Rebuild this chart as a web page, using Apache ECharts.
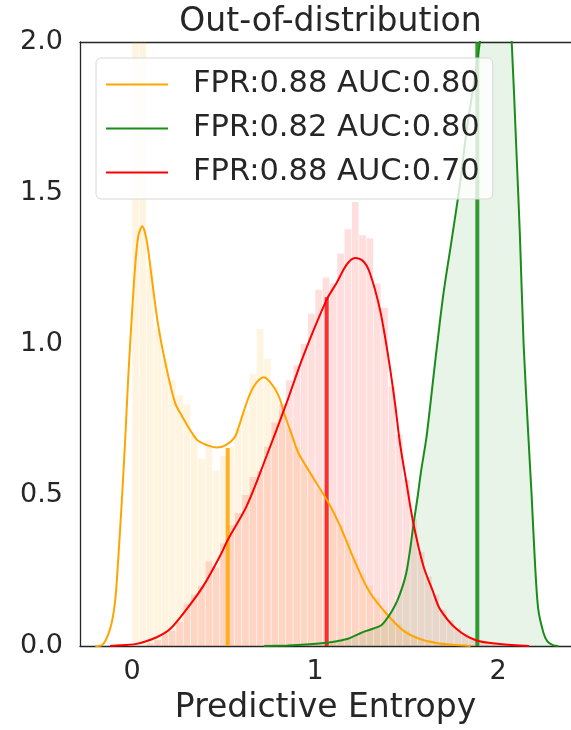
<!DOCTYPE html>
<html lang="en">
<head>
    <meta charset="UTF-8">
    <title>Out-of-distribution</title>
    <script src="https://cdn.jsdelivr.net/npm/echarts@6/dist/echarts.min.js"></script>
    <style>
        html, body { margin: 0; padding: 0; background: #fff; }
    </style>
</head>
<body>
    <div id="chart" style="width: 571px; height: 730px;"></div>

    <script>
        // #region data
        var legendNames = ["FPR:0.88 AUC:0.80", "FPR:0.82 AUC:0.80", "FPR:0.88 AUC:0.70"]
        var xTicks = [0, 1, 2]

        // histograms (bin width 0.04)
        var binWidth = 0.04
        var orangeHistStart = 0.0
        var orangeHist = [2.60, 2.20, 1.25, 1.05, 0.95, 0.88, 0.83, 0.80, 0.70, 0.62,
            0.68, 0.58, 0.63, 0.66, 0.72, 0.78, 0.90, 1.05, 0.95, 0.86,
            0.78, 0.72, 0.66, 0.60, 0.57, 0.52, 0.49, 0.45, 0.40, 0.35,
            0.29, 0.24, 0.20, 0.16, 0.12, 0.09, 0.07, 0.05, 0.035, 0.025,
            0.015, 0.01, 0.008, 0.005, 0.004, 0.003]
        var redHistStart = 0.08
        var redHist = [0.01, 0.02, 0.04, 0.05, 0.08, 0.14, 0.17, 0.20, 0.28, 0.26,
            0.34, 0.40, 0.44, 0.50, 0.56, 0.58, 0.66, 0.74, 0.80, 0.88,
            0.93, 1.00, 1.10, 1.18, 1.22, 1.20, 1.30, 1.38, 1.47, 1.36,
            1.35, 1.20, 1.12, 0.86, 0.70, 0.55, 0.42, 0.31, 0.23, 0.17,
            0.12, 0.085, 0.06, 0.04, 0.028, 0.018, 0.012, 0.009, 0.006, 0.005,
            0.003, 0.002]

        // density curves [x, y]
        var orangeKde = [[-0.20, 0], [-0.166, 0.002], [-0.12, 0.056], [-0.093, 0.144], [-0.075, 0.288],
            [-0.056, 0.475], [-0.038, 0.673], [-0.02, 0.894], [-0.002, 1.081], [0.016, 1.246],
            [0.034, 1.356], [0.056, 1.39], [0.08, 1.345], [0.107, 1.224], [0.144, 1.059],
            [0.19, 0.916], [0.235, 0.806], [0.262, 0.773], [0.353, 0.684], [0.41, 0.665],
            [0.463, 0.657], [0.51, 0.664], [0.56, 0.69], [0.585, 0.728], [0.608, 0.772],
            [0.645, 0.835], [0.68, 0.872], [0.721, 0.89], [0.772, 0.86], [0.809, 0.817],
            [0.827, 0.778], [0.873, 0.70], [0.909, 0.64], [0.973, 0.574], [1.073, 0.475],
            [1.137, 0.398], [1.228, 0.266], [1.30, 0.177], [1.392, 0.106], [1.483, 0.051],
            [1.574, 0.023], [1.665, 0.01], [1.75, 0.004], [1.85, 0]]
        var greenKde = [[0.72, 0], [0.85, 0.002], [0.95, 0.005], [1.05, 0.01], [1.12, 0.016],
            [1.18, 0.024], [1.24, 0.04], [1.28, 0.05], [1.32, 0.058], [1.36, 0.068],
            [1.39, 0.088], [1.42, 0.115], [1.45, 0.15], [1.48, 0.2], [1.50, 0.245],
            [1.52, 0.32], [1.54, 0.41], [1.56, 0.49], [1.58, 0.58], [1.61, 0.695],
            [1.656, 0.937], [1.70, 1.158], [1.747, 1.345], [1.79, 1.52], [1.829, 1.709],
            [1.87, 1.87], [1.90, 1.995], [1.95, 2.2], [2.00, 2.35], [2.04, 2.35],
            [2.075, 2.0], [2.10, 1.65], [2.12, 1.357], [2.14, 1.0], [2.166, 0.695],
            [2.184, 0.497], [2.202, 0.277], [2.22, 0.122], [2.248, 0.045], [2.27, 0.015],
            [2.30, 0.003], [2.33, 0]]
        var redKde = [[-0.12, 0], [-0.10, 0.001], [0.025, 0.007], [0.135, 0.029], [0.208, 0.056],
            [0.299, 0.122], [0.39, 0.199], [0.481, 0.298], [0.526, 0.354], [0.627, 0.464],
            [0.736, 0.63], [0.845, 0.805], [0.936, 0.96], [1.064, 1.147], [1.118, 1.202],
            [1.173, 1.263], [1.219, 1.285], [1.264, 1.274], [1.30, 1.235], [1.355, 1.114],
            [1.40, 0.96], [1.437, 0.805], [1.464, 0.673], [1.50, 0.54], [1.537, 0.408],
            [1.592, 0.266], [1.647, 0.177], [1.683, 0.122], [1.774, 0.056], [1.883, 0.018],
            [2.01, 0.007], [2.17, 0]]

        // mean lines
        var meanX = [0.523, 1.887, 1.064]
        var meanY = [0.656, 2.0, 1.155]
        // #endregion

        var textColor = "#262626"
        var font = "DejaVu Sans"

        function histData(start, heights) {
            return heights.map(function (h, i) {
                return [start + i * binWidth, start + (i + 1) * binWidth, h]
            })
        }

        function histRender(fill) {
            return function (params, api) {
                var p0 = api.coord([api.value(0), 0])
                var p1 = api.coord([api.value(1), api.value(2)])
                var rect = echarts.graphic.clipRectByRect({
                    x: p0[0] + 0.3,
                    y: p1[1],
                    width: p1[0] - p0[0] - 0.6,
                    height: p0[1] - p1[1]
                }, {
                    x: params.coordSys.x,
                    y: params.coordSys.y,
                    width: params.coordSys.width,
                    height: params.coordSys.height
                })
                return rect && { type: "rect", shape: rect, style: { fill: fill } }
            }
        }

        function meanLine(i, color) {
            return {
                type: "line",
                data: [[meanX[i], 0], [meanX[i], meanY[i]]],
                symbol: "none",
                lineStyle: { color: color, width: 4 },
                z: 2,
                silent: true
            }
        }

        function kdeLine(name, data, color) {
            return {
                name: name,
                type: "line",
                data: data,
                symbol: "none",
                smooth: 0.3,
                color: color,
                lineStyle: { color: color, width: 2 },
                z: 3
            }
        }

        var greenSeries = kdeLine(legendNames[1], greenKde, "#1a8c1a")
        greenSeries.areaStyle = { color: "rgba(0,128,0,0.13)" }

        var chart = echarts.init(document.getElementById("chart"))
        var option = {
            animation: false,
            backgroundColor: "#fff",
            grid: { left: 80, right: 0, top: 42, bottom: 83 },
            graphic: [{
                type: "text",
                x: 330.5,
                y: 22,
                style: {
                    text: "Out-of-distribution",
                    font: "33px '" + font + "'",
                    fill: textColor,
                    align: "center",
                    verticalAlign: "middle"
                }
            }],
            legend: {
                data: legendNames,
                orient: "vertical",
                left: 96,
                top: 58,
                zlevel: 1,
                z: 10,
                padding: [11, 13, 11, 10],
                itemGap: 13,
                icon: "rect",
                itemWidth: 62,
                itemHeight: 2,
                backgroundColor: "rgba(255,255,255,0.8)",
                borderColor: "#d8d8d8",
                borderWidth: 1,
                borderRadius: 5,
                textStyle: {
                    fontFamily: font,
                    fontSize: 30.5,
                    lineHeight: 30,
                    color: textColor,
                    padding: [0, 0, 0, 20]
                }
            },
            xAxis: [{
                type: "value",
                min: -0.284,
                max: 2.399,
                name: "Predictive Entropy",
                nameLocation: "middle",
                nameGap: 46,
                nameTextStyle: { fontFamily: font, fontSize: 33, color: textColor },
                axisLine: { show: true, onZero: false, lineStyle: { color: textColor, width: 1.3 } },
                axisTick: { show: false },
                splitLine: { show: false },
                axisLabel: {
                    customValues: xTicks,
                    fontFamily: font,
                    fontSize: 27,
                    color: textColor,
                    margin: 12
                }
            }, {
                type: "value",
                position: "top",
                min: -0.284,
                max: 2.399,
                axisLine: { show: true, onZero: false, lineStyle: { color: textColor, width: 1.3 } },
                axisTick: { show: false },
                axisLabel: { show: false },
                splitLine: { show: false }
            }],
            yAxis: {
                type: "value",
                min: 0,
                max: 2,
                interval: 0.5,
                axisLine: { show: true, onZero: false, lineStyle: { color: textColor, width: 1.3 } },
                axisTick: { show: false },
                splitLine: { show: false },
                axisLabel: {
                    fontFamily: font,
                    fontSize: 27,
                    color: textColor,
                    margin: 17,
                    formatter: function (v) { return v.toFixed(1) }
                }
            },
            series: [
                {
                    type: "custom",
                    data: histData(orangeHistStart, orangeHist),
                    encode: { x: [0, 1], y: 2 },
                    renderItem: histRender("rgba(255,165,0,0.12)"),
                    silent: true,
                    z: 1
                },
                {
                    type: "custom",
                    data: histData(redHistStart, redHist),
                    encode: { x: [0, 1], y: 2 },
                    renderItem: histRender("rgba(255,0,0,0.13)"),
                    silent: true,
                    z: 1
                },
                kdeLine(legendNames[0], orangeKde, "#FFA500"),
                greenSeries,
                kdeLine(legendNames[2], redKde, "#FF0000"),
                meanLine(0, "rgba(255,165,0,0.85)"),
                meanLine(1, "rgba(20,140,20,0.85)"),
                meanLine(2, "rgba(255,0,0,0.8)")
            ]
        }
        chart.setOption(option)
    </script>
</body>
</html>
